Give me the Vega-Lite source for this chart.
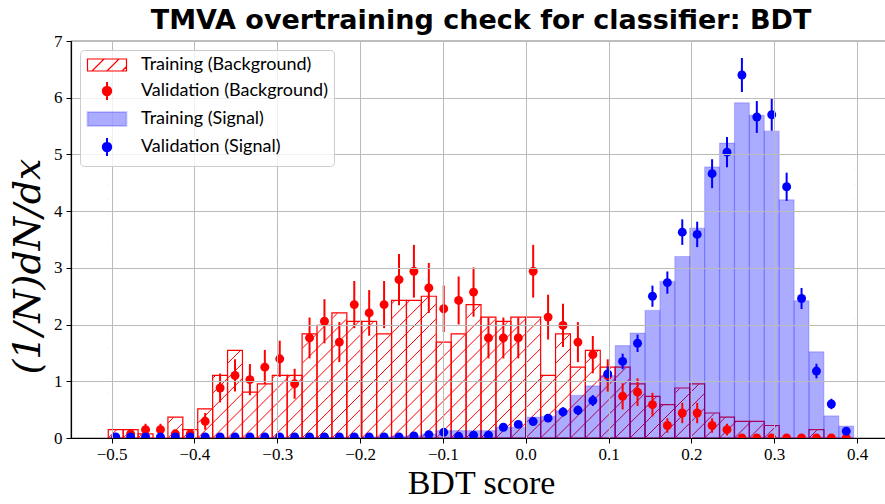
{
  "$schema": "https://vega.github.io/schema/vega-lite/v6.json",
  "width": 820,
  "height": 397,
  "autosize": {"type": "none"},
  "padding": {"left": 71, "top": 41, "right": 0, "bottom": 66},
  "background": "white",
  "title": {"text": "TMVA overtraining check for classifier: BDT", "font": "DejaVu Sans", "fontSize": 27, "fontWeight": "bold", "color": "black", "anchor": "middle", "offset": 6, "dy": 9},
  "config": {
    "view": {"stroke": "black", "strokeWidth": 1.2},
    "axis": {"domainColor": "black", "domainWidth": 1.2, "tickColor": "black", "tickWidth": 1, "gridColor": "#bbbbbb", "gridWidth": 1, "labelColor": "black", "titleColor": "black"}
  },
  "datasets": {
    "train": [
      {"x0": -0.504, "x1": -0.486, "v": 0.147, "s": "Training (Background)"},
      {"x0": -0.486, "x1": -0.468, "v": 0.147, "s": "Training (Background)"},
      {"x0": -0.468, "x1": -0.45, "v": 0.0735, "s": "Training (Background)"},
      {"x0": -0.45, "x1": -0.432, "v": 0, "s": "Training (Background)"},
      {"x0": -0.432, "x1": -0.414, "v": 0.3675, "s": "Training (Background)"},
      {"x0": -0.414, "x1": -0.396, "v": 0.147, "s": "Training (Background)"},
      {"x0": -0.396, "x1": -0.378, "v": 0.5145, "s": "Training (Background)"},
      {"x0": -0.378, "x1": -0.36, "v": 1.1025, "s": "Training (Background)"},
      {"x0": -0.36, "x1": -0.342, "v": 1.5435, "s": "Training (Background)"},
      {"x0": -0.342, "x1": -0.324, "v": 0.8085, "s": "Training (Background)"},
      {"x0": -0.324, "x1": -0.306, "v": 0.9555, "s": "Training (Background)"},
      {"x0": -0.306, "x1": -0.288, "v": 1.1025, "s": "Training (Background)"},
      {"x0": -0.288, "x1": -0.27, "v": 1.1025, "s": "Training (Background)"},
      {"x0": -0.27, "x1": -0.252, "v": 1.8375, "s": "Training (Background)"},
      {"x0": -0.252, "x1": -0.234, "v": 1.9845, "s": "Training (Background)"},
      {"x0": -0.234, "x1": -0.216, "v": 2.205, "s": "Training (Background)"},
      {"x0": -0.216, "x1": -0.198, "v": 2.058, "s": "Training (Background)"},
      {"x0": -0.198, "x1": -0.18, "v": 2.058, "s": "Training (Background)"},
      {"x0": -0.18, "x1": -0.162, "v": 1.8375, "s": "Training (Background)"},
      {"x0": -0.162, "x1": -0.144, "v": 2.4255, "s": "Training (Background)"},
      {"x0": -0.144, "x1": -0.126, "v": 2.4255, "s": "Training (Background)"},
      {"x0": -0.126, "x1": -0.108, "v": 2.499, "s": "Training (Background)"},
      {"x0": -0.108, "x1": -0.09, "v": 1.6905, "s": "Training (Background)"},
      {"x0": -0.09, "x1": -0.072, "v": 1.8375, "s": "Training (Background)"},
      {"x0": -0.072, "x1": -0.054, "v": 2.352, "s": "Training (Background)"},
      {"x0": -0.054, "x1": -0.036, "v": 2.1315, "s": "Training (Background)"},
      {"x0": -0.036, "x1": -0.018, "v": 2.058, "s": "Training (Background)"},
      {"x0": -0.018, "x1": 0, "v": 2.1315, "s": "Training (Background)"},
      {"x0": 0, "x1": 0.018, "v": 2.1315, "s": "Training (Background)"},
      {"x0": 0.018, "x1": 0.036, "v": 1.1025, "s": "Training (Background)"},
      {"x0": 0.036, "x1": 0.054, "v": 1.8375, "s": "Training (Background)"},
      {"x0": 0.054, "x1": 0.072, "v": 1.2495, "s": "Training (Background)"},
      {"x0": 0.072, "x1": 0.09, "v": 1.5435, "s": "Training (Background)"},
      {"x0": 0.09, "x1": 0.108, "v": 1.2495, "s": "Training (Background)"},
      {"x0": 0.108, "x1": 0.126, "v": 1.2495, "s": "Training (Background)"},
      {"x0": 0.126, "x1": 0.144, "v": 0.9555, "s": "Training (Background)"},
      {"x0": 0.144, "x1": 0.162, "v": 0.735, "s": "Training (Background)"},
      {"x0": 0.162, "x1": 0.18, "v": 0.588, "s": "Training (Background)"},
      {"x0": 0.18, "x1": 0.198, "v": 0.882, "s": "Training (Background)"},
      {"x0": 0.198, "x1": 0.216, "v": 0.9555, "s": "Training (Background)"},
      {"x0": 0.216, "x1": 0.234, "v": 0.441, "s": "Training (Background)"},
      {"x0": 0.234, "x1": 0.252, "v": 0.3675, "s": "Training (Background)"},
      {"x0": 0.252, "x1": 0.27, "v": 0.294, "s": "Training (Background)"},
      {"x0": 0.27, "x1": 0.288, "v": 0.294, "s": "Training (Background)"},
      {"x0": 0.288, "x1": 0.306, "v": 0.2205, "s": "Training (Background)"},
      {"x0": 0.306, "x1": 0.324, "v": 0, "s": "Training (Background)"},
      {"x0": 0.324, "x1": 0.342, "v": 0, "s": "Training (Background)"},
      {"x0": 0.342, "x1": 0.36, "v": 0.147, "s": "Training (Background)"},
      {"x0": 0.36, "x1": 0.378, "v": 0, "s": "Training (Background)"},
      {"x0": 0.378, "x1": 0.396, "v": 0, "s": "Training (Background)"},
      {"x0": -0.504, "x1": -0.486, "v": 0, "s": "Training (Signal)"},
      {"x0": -0.486, "x1": -0.468, "v": 0, "s": "Training (Signal)"},
      {"x0": -0.468, "x1": -0.45, "v": 0, "s": "Training (Signal)"},
      {"x0": -0.45, "x1": -0.432, "v": 0, "s": "Training (Signal)"},
      {"x0": -0.432, "x1": -0.414, "v": 0, "s": "Training (Signal)"},
      {"x0": -0.414, "x1": -0.396, "v": 0, "s": "Training (Signal)"},
      {"x0": -0.396, "x1": -0.378, "v": 0, "s": "Training (Signal)"},
      {"x0": -0.378, "x1": -0.36, "v": 0, "s": "Training (Signal)"},
      {"x0": -0.36, "x1": -0.342, "v": 0, "s": "Training (Signal)"},
      {"x0": -0.342, "x1": -0.324, "v": 0, "s": "Training (Signal)"},
      {"x0": -0.324, "x1": -0.306, "v": 0, "s": "Training (Signal)"},
      {"x0": -0.306, "x1": -0.288, "v": 0.01, "s": "Training (Signal)"},
      {"x0": -0.288, "x1": -0.27, "v": 0.01, "s": "Training (Signal)"},
      {"x0": -0.27, "x1": -0.252, "v": 0.01, "s": "Training (Signal)"},
      {"x0": -0.252, "x1": -0.234, "v": 0.01, "s": "Training (Signal)"},
      {"x0": -0.234, "x1": -0.216, "v": 0.01, "s": "Training (Signal)"},
      {"x0": -0.216, "x1": -0.198, "v": 0.01, "s": "Training (Signal)"},
      {"x0": -0.198, "x1": -0.18, "v": 0.02, "s": "Training (Signal)"},
      {"x0": -0.18, "x1": -0.162, "v": 0.02, "s": "Training (Signal)"},
      {"x0": -0.162, "x1": -0.144, "v": 0.03, "s": "Training (Signal)"},
      {"x0": -0.144, "x1": -0.126, "v": 0.04, "s": "Training (Signal)"},
      {"x0": -0.126, "x1": -0.108, "v": 0.07, "s": "Training (Signal)"},
      {"x0": -0.108, "x1": -0.09, "v": 0.13, "s": "Training (Signal)"},
      {"x0": -0.09, "x1": -0.072, "v": 0.13, "s": "Training (Signal)"},
      {"x0": -0.072, "x1": -0.054, "v": 0.13, "s": "Training (Signal)"},
      {"x0": -0.054, "x1": -0.036, "v": 0.13, "s": "Training (Signal)"},
      {"x0": -0.036, "x1": -0.018, "v": 0.19, "s": "Training (Signal)"},
      {"x0": -0.018, "x1": 0, "v": 0.19, "s": "Training (Signal)"},
      {"x0": 0, "x1": 0.018, "v": 0.37, "s": "Training (Signal)"},
      {"x0": 0.018, "x1": 0.036, "v": 0.38, "s": "Training (Signal)"},
      {"x0": 0.036, "x1": 0.054, "v": 0.48, "s": "Training (Signal)"},
      {"x0": 0.054, "x1": 0.072, "v": 0.75, "s": "Training (Signal)"},
      {"x0": 0.072, "x1": 0.09, "v": 0.92, "s": "Training (Signal)"},
      {"x0": 0.09, "x1": 0.108, "v": 1.1, "s": "Training (Signal)"},
      {"x0": 0.108, "x1": 0.126, "v": 1.63, "s": "Training (Signal)"},
      {"x0": 0.126, "x1": 0.144, "v": 1.85, "s": "Training (Signal)"},
      {"x0": 0.144, "x1": 0.162, "v": 2.25, "s": "Training (Signal)"},
      {"x0": 0.162, "x1": 0.18, "v": 2.76, "s": "Training (Signal)"},
      {"x0": 0.18, "x1": 0.198, "v": 3.2, "s": "Training (Signal)"},
      {"x0": 0.198, "x1": 0.216, "v": 3.7, "s": "Training (Signal)"},
      {"x0": 0.216, "x1": 0.234, "v": 4.78, "s": "Training (Signal)"},
      {"x0": 0.234, "x1": 0.252, "v": 5.2, "s": "Training (Signal)"},
      {"x0": 0.252, "x1": 0.27, "v": 5.91, "s": "Training (Signal)"},
      {"x0": 0.27, "x1": 0.288, "v": 5.69, "s": "Training (Signal)"},
      {"x0": 0.288, "x1": 0.306, "v": 5.41, "s": "Training (Signal)"},
      {"x0": 0.306, "x1": 0.324, "v": 4.2, "s": "Training (Signal)"},
      {"x0": 0.324, "x1": 0.342, "v": 2.42, "s": "Training (Signal)"},
      {"x0": 0.342, "x1": 0.36, "v": 1.52, "s": "Training (Signal)"},
      {"x0": 0.36, "x1": 0.378, "v": 0.39, "s": "Training (Signal)"},
      {"x0": 0.378, "x1": 0.396, "v": 0.21, "s": "Training (Signal)"}
    ],
    "val": [
      {"x": -0.495, "v": 0, "lo": 0, "hi": 0, "s": "Validation (Background)"},
      {"x": -0.477, "v": 0.0735, "lo": 0, "hi": 0.147, "s": "Validation (Background)"},
      {"x": -0.459, "v": 0.147, "lo": 0.043, "hi": 0.251, "s": "Validation (Background)"},
      {"x": -0.441, "v": 0.147, "lo": 0.043, "hi": 0.251, "s": "Validation (Background)"},
      {"x": -0.423, "v": 0.0735, "lo": 0, "hi": 0.147, "s": "Validation (Background)"},
      {"x": -0.405, "v": 0.0735, "lo": 0, "hi": 0.147, "s": "Validation (Background)"},
      {"x": -0.387, "v": 0.294, "lo": 0.147, "hi": 0.441, "s": "Validation (Background)"},
      {"x": -0.369, "v": 0.882, "lo": 0.627, "hi": 1.137, "s": "Validation (Background)"},
      {"x": -0.351, "v": 1.1025, "lo": 0.818, "hi": 1.388, "s": "Validation (Background)"},
      {"x": -0.333, "v": 1.029, "lo": 0.754, "hi": 1.304, "s": "Validation (Background)"},
      {"x": -0.315, "v": 1.2495, "lo": 0.947, "hi": 1.553, "s": "Validation (Background)"},
      {"x": -0.297, "v": 1.3965, "lo": 1.077, "hi": 1.717, "s": "Validation (Background)"},
      {"x": -0.279, "v": 0.9555, "lo": 0.691, "hi": 1.221, "s": "Validation (Background)"},
      {"x": -0.261, "v": 1.764, "lo": 1.404, "hi": 2.124, "s": "Validation (Background)"},
      {"x": -0.243, "v": 2.058, "lo": 1.669, "hi": 2.447, "s": "Validation (Background)"},
      {"x": -0.225, "v": 1.6905, "lo": 1.338, "hi": 2.043, "s": "Validation (Background)"},
      {"x": -0.207, "v": 2.352, "lo": 1.936, "hi": 2.768, "s": "Validation (Background)"},
      {"x": -0.189, "v": 2.205, "lo": 1.802, "hi": 2.608, "s": "Validation (Background)"},
      {"x": -0.171, "v": 2.352, "lo": 1.936, "hi": 2.768, "s": "Validation (Background)"},
      {"x": -0.153, "v": 2.793, "lo": 2.34, "hi": 3.246, "s": "Validation (Background)"},
      {"x": -0.135, "v": 2.94, "lo": 2.475, "hi": 3.405, "s": "Validation (Background)"},
      {"x": -0.117, "v": 2.646, "lo": 2.205, "hi": 3.087, "s": "Validation (Background)"},
      {"x": -0.099, "v": 2.2785, "lo": 1.869, "hi": 2.688, "s": "Validation (Background)"},
      {"x": -0.081, "v": 2.4255, "lo": 2.003, "hi": 2.848, "s": "Validation (Background)"},
      {"x": -0.063, "v": 2.5725, "lo": 2.138, "hi": 3.008, "s": "Validation (Background)"},
      {"x": -0.045, "v": 1.764, "lo": 1.404, "hi": 2.124, "s": "Validation (Background)"},
      {"x": -0.027, "v": 1.764, "lo": 1.404, "hi": 2.124, "s": "Validation (Background)"},
      {"x": -0.009, "v": 1.764, "lo": 1.404, "hi": 2.124, "s": "Validation (Background)"},
      {"x": 0.009, "v": 2.94, "lo": 2.475, "hi": 3.405, "s": "Validation (Background)"},
      {"x": 0.027, "v": 2.1315, "lo": 1.736, "hi": 2.527, "s": "Validation (Background)"},
      {"x": 0.045, "v": 1.9845, "lo": 1.603, "hi": 2.366, "s": "Validation (Background)"},
      {"x": 0.063, "v": 1.6905, "lo": 1.338, "hi": 2.043, "s": "Validation (Background)"},
      {"x": 0.081, "v": 1.47, "lo": 1.141, "hi": 1.799, "s": "Validation (Background)"},
      {"x": 0.099, "v": 1.1025, "lo": 0.818, "hi": 1.388, "s": "Validation (Background)"},
      {"x": 0.117, "v": 0.735, "lo": 0.503, "hi": 0.967, "s": "Validation (Background)"},
      {"x": 0.135, "v": 0.8085, "lo": 0.565, "hi": 1.052, "s": "Validation (Background)"},
      {"x": 0.153, "v": 0.588, "lo": 0.38, "hi": 0.796, "s": "Validation (Background)"},
      {"x": 0.171, "v": 0.2205, "lo": 0.093, "hi": 0.348, "s": "Validation (Background)"},
      {"x": 0.189, "v": 0.441, "lo": 0.261, "hi": 0.621, "s": "Validation (Background)"},
      {"x": 0.207, "v": 0.441, "lo": 0.261, "hi": 0.621, "s": "Validation (Background)"},
      {"x": 0.225, "v": 0.2205, "lo": 0.093, "hi": 0.348, "s": "Validation (Background)"},
      {"x": 0.243, "v": 0.147, "lo": 0.043, "hi": 0.251, "s": "Validation (Background)"},
      {"x": 0.261, "v": 0, "lo": 0, "hi": 0, "s": "Validation (Background)"},
      {"x": 0.279, "v": 0, "lo": 0, "hi": 0, "s": "Validation (Background)"},
      {"x": 0.297, "v": 0, "lo": 0, "hi": 0, "s": "Validation (Background)"},
      {"x": 0.315, "v": 0, "lo": 0, "hi": 0, "s": "Validation (Background)"},
      {"x": 0.333, "v": 0, "lo": 0, "hi": 0, "s": "Validation (Background)"},
      {"x": 0.351, "v": 0, "lo": 0, "hi": 0, "s": "Validation (Background)"},
      {"x": 0.369, "v": 0, "lo": 0, "hi": 0, "s": "Validation (Background)"},
      {"x": 0.387, "v": 0, "lo": 0, "hi": 0, "s": "Validation (Background)"},
      {"x": -0.495, "v": 0.02, "lo": 0.003, "hi": 0.037, "s": "Validation (Signal)"},
      {"x": -0.477, "v": 0.02, "lo": 0.003, "hi": 0.037, "s": "Validation (Signal)"},
      {"x": -0.459, "v": 0.02, "lo": 0.003, "hi": 0.037, "s": "Validation (Signal)"},
      {"x": -0.441, "v": 0.02, "lo": 0.003, "hi": 0.037, "s": "Validation (Signal)"},
      {"x": -0.423, "v": 0.02, "lo": 0.003, "hi": 0.037, "s": "Validation (Signal)"},
      {"x": -0.405, "v": 0.02, "lo": 0.003, "hi": 0.037, "s": "Validation (Signal)"},
      {"x": -0.387, "v": 0.02, "lo": 0.003, "hi": 0.037, "s": "Validation (Signal)"},
      {"x": -0.369, "v": 0.02, "lo": 0.003, "hi": 0.037, "s": "Validation (Signal)"},
      {"x": -0.351, "v": 0.02, "lo": 0.003, "hi": 0.037, "s": "Validation (Signal)"},
      {"x": -0.333, "v": 0.02, "lo": 0.003, "hi": 0.037, "s": "Validation (Signal)"},
      {"x": -0.315, "v": 0.02, "lo": 0.003, "hi": 0.037, "s": "Validation (Signal)"},
      {"x": -0.297, "v": 0.02, "lo": 0.003, "hi": 0.037, "s": "Validation (Signal)"},
      {"x": -0.279, "v": 0.02, "lo": 0.003, "hi": 0.037, "s": "Validation (Signal)"},
      {"x": -0.261, "v": 0.02, "lo": 0.003, "hi": 0.037, "s": "Validation (Signal)"},
      {"x": -0.243, "v": 0.02, "lo": 0.003, "hi": 0.037, "s": "Validation (Signal)"},
      {"x": -0.225, "v": 0.02, "lo": 0.003, "hi": 0.037, "s": "Validation (Signal)"},
      {"x": -0.207, "v": 0.02, "lo": 0.003, "hi": 0.037, "s": "Validation (Signal)"},
      {"x": -0.189, "v": 0.02, "lo": 0.003, "hi": 0.037, "s": "Validation (Signal)"},
      {"x": -0.171, "v": 0.02, "lo": 0.003, "hi": 0.037, "s": "Validation (Signal)"},
      {"x": -0.153, "v": 0.02, "lo": 0.003, "hi": 0.037, "s": "Validation (Signal)"},
      {"x": -0.135, "v": 0.035, "lo": 0.013, "hi": 0.057, "s": "Validation (Signal)"},
      {"x": -0.117, "v": 0.06, "lo": 0.031, "hi": 0.089, "s": "Validation (Signal)"},
      {"x": -0.099, "v": 0.1, "lo": 0.063, "hi": 0.137, "s": "Validation (Signal)"},
      {"x": -0.081, "v": 0.03, "lo": 0.01, "hi": 0.05, "s": "Validation (Signal)"},
      {"x": -0.063, "v": 0.05, "lo": 0.024, "hi": 0.076, "s": "Validation (Signal)"},
      {"x": -0.045, "v": 0.05, "lo": 0.024, "hi": 0.076, "s": "Validation (Signal)"},
      {"x": -0.027, "v": 0.19, "lo": 0.138, "hi": 0.242, "s": "Validation (Signal)"},
      {"x": -0.009, "v": 0.24, "lo": 0.182, "hi": 0.298, "s": "Validation (Signal)"},
      {"x": 0.009, "v": 0.29, "lo": 0.226, "hi": 0.354, "s": "Validation (Signal)"},
      {"x": 0.027, "v": 0.35, "lo": 0.28, "hi": 0.42, "s": "Validation (Signal)"},
      {"x": 0.045, "v": 0.46, "lo": 0.38, "hi": 0.54, "s": "Validation (Signal)"},
      {"x": 0.063, "v": 0.49, "lo": 0.407, "hi": 0.573, "s": "Validation (Signal)"},
      {"x": 0.081, "v": 0.66, "lo": 0.564, "hi": 0.756, "s": "Validation (Signal)"},
      {"x": 0.099, "v": 1.13, "lo": 1.004, "hi": 1.256, "s": "Validation (Signal)"},
      {"x": 0.117, "v": 1.35, "lo": 1.213, "hi": 1.487, "s": "Validation (Signal)"},
      {"x": 0.135, "v": 1.67, "lo": 1.517, "hi": 1.823, "s": "Validation (Signal)"},
      {"x": 0.153, "v": 2.5, "lo": 2.313, "hi": 2.687, "s": "Validation (Signal)"},
      {"x": 0.171, "v": 2.74, "lo": 2.544, "hi": 2.936, "s": "Validation (Signal)"},
      {"x": 0.189, "v": 3.63, "lo": 3.405, "hi": 3.855, "s": "Validation (Signal)"},
      {"x": 0.207, "v": 3.59, "lo": 3.366, "hi": 3.814, "s": "Validation (Signal)"},
      {"x": 0.225, "v": 4.66, "lo": 4.405, "hi": 4.915, "s": "Validation (Signal)"},
      {"x": 0.243, "v": 5.04, "lo": 4.774, "hi": 5.306, "s": "Validation (Signal)"},
      {"x": 0.261, "v": 6.4, "lo": 6.1, "hi": 6.7, "s": "Validation (Signal)"},
      {"x": 0.279, "v": 5.66, "lo": 5.379, "hi": 5.941, "s": "Validation (Signal)"},
      {"x": 0.297, "v": 5.7, "lo": 5.418, "hi": 5.982, "s": "Validation (Signal)"},
      {"x": 0.315, "v": 4.43, "lo": 4.181, "hi": 4.679, "s": "Validation (Signal)"},
      {"x": 0.333, "v": 2.46, "lo": 2.274, "hi": 2.646, "s": "Validation (Signal)"},
      {"x": 0.351, "v": 1.18, "lo": 1.051, "hi": 1.309, "s": "Validation (Signal)"},
      {"x": 0.369, "v": 0.6, "lo": 0.508, "hi": 0.692, "s": "Validation (Signal)"},
      {"x": 0.387, "v": 0.12, "lo": 0.079, "hi": 0.161, "s": "Validation (Signal)"}
    ]
  },
  "layer": [
    {
      "data": {"name": "train"},
      "transform": [{"filter": "datum.s == 'Training (Background)'"}],
      "mark": {"type": "point", "filled": false, "opacity": 1, "color": "#ff0000", "strokeWidth": 1, "size": 400, "clip": true,
        "shape": "M0,0L1.491,-1.491M0,-1.491L1.491,-2.982M0,-2.982L1.491,-4.473M0,-4.473L1.491,-5.964M0,-5.964L1.491,-7.455M0,-7.455L1.491,-8.945M0,-8.945L1.491,-10.436M0,-10.436L1.491,-11.927M0,-11.927L1.491,-13.418M0,-13.418L1.491,-14.909M0,-14.909L1.491,-16.4M0,-16.4L1.491,-17.891M0,-17.891L1.491,-19.382M0,-19.382L1.491,-20.873M0,-20.873L1.491,-22.364M0,-22.364L1.491,-23.854M0,-23.854L1.491,-25.345M0,-25.345L1.491,-26.836M0,-26.836L1.491,-28.327M0,-28.327L1.491,-29.818M0,-29.818L1.491,-31.309M0,-31.309L1.491,-32.8M0,-32.8L1.491,-34.291M0,-34.291L1.491,-35.782M0,-35.782L1.491,-37.273M0,-37.273L1.491,-38.763M0,-38.763L1.491,-40.254"},
      "encoding": {
        "x": {"field": "x0", "type": "quantitative", "title": "BDT score", "scale": {"domain": [-0.549, 0.441], "nice": false, "zero": false},
          "axis": {"values": [-0.5, -0.4, -0.3, -0.2, -0.1, 0, 0.1, 0.2, 0.3, 0.4], "format": ".1f", "grid": true, "zindex": 1, "labelFont": "Liberation Serif", "labelFontSize": 17, "labelPadding": 3, "tickSize": 5, "titleFont": "Liberation Serif", "titleFontSize": 34, "titleFontWeight": "normal", "titlePadding": 4, "labelFlush": false, "labelOverlap": false}},
        "y": {"datum": 0, "type": "quantitative", "title": "(1/N)dN/dx", "scale": {"domain": [0, 7], "nice": false},
          "axis": {"values": [0, 1, 2, 3, 4, 5, 6, 7], "format": "d", "grid": true, "zindex": 1, "labelFont": "Liberation Serif", "labelFontSize": 17, "labelPadding": 4, "tickSize": 5, "titleFont": "DejaVu Serif", "titleFontStyle": "italic", "titleFontSize": 38, "titleFontWeight": "normal", "titlePadding": 6, "titleY": 225, "labelFlush": false}}
      }
    },
    {
      "data": {"name": "train"},
      "transform": [{"filter": "datum.s == 'Training (Background)'"}],
      "mark": {"type": "bar", "fill": "white", "stroke": "white", "strokeWidth": 1, "clip": true},
      "encoding": {
        "x": {"field": "x0", "type": "quantitative", "title": "BDT score", "scale": {"domain": [-0.549, 0.441], "nice": false, "zero": false}},
        "x2": {"field": "x1"},
        "y": {"field": "v", "type": "quantitative", "title": "(1/N)dN/dx", "scale": {"domain": [0, 7], "nice": false}},
        "y2": {"datum": 7}
      }
    },
    {
      "data": {"name": "train"},
      "mark": {"type": "bar", "strokeWidth": 1.2, "fillOpacity": 1, "clip": true},
      "encoding": {
        "x": {"field": "x0", "type": "quantitative", "title": "BDT score", "scale": {"domain": [-0.549, 0.441], "nice": false, "zero": false}},
        "x2": {"field": "x1"},
        "y": {"field": "v", "type": "quantitative", "title": "(1/N)dN/dx", "scale": {"domain": [0, 7], "nice": false}},
        "y2": {"datum": 0},
        "fill": {"field": "s", "type": "nominal",
          "scale": {"domain": ["Training (Background)", "Validation (Background)", "Training (Signal)", "Validation (Signal)"], "range": ["rgba(255,0,0,0)", "#ff0000", "rgba(0,0,255,0.33)", "#0000ff"]},
          "legend": {"title": null, "orient": "top-left", "offset": 9, "padding": 6, "zindex": 2,
            "fillColor": "rgba(255,255,255,0.8)", "strokeColor": "#cccccc", "cornerRadius": 4,
            "labelFont": "Lato", "labelFontSize": 18, "labelColor": "black", "labelLimit": 400, "symbolSize": 400, "rowPadding": 4, "labelOffset": 25, "symbolOffset": 12,
            "encode": {"symbols": {"update": {
              "shape": {"signal": "datum.value == 'Training (Background)' ? 'M-1.95,-0.6H1.95V0.6H-1.95ZM-1.5,0.6L-0.3,-0.6M0,0.6L1.2,-0.6M1.5,0.6L1.95,0.15' : datum.value == 'Training (Signal)' ? 'M-1.95,-0.7H1.95V0.7H-1.95Z' : 'M0,-0.9V0.9M0.42,0A0.42,0.42 0 1,1 -0.42,0A0.42,0.42 0 1,1 0.42,0Z'"},
              "fill": {"signal": "datum.value == 'Training (Background)' ? 'transparent' : datum.value == 'Training (Signal)' ? 'rgba(0,0,255,0.33)' : datum.value == 'Validation (Background)' ? '#ff0000' : '#0000ff'"},
              "stroke": {"signal": "datum.value == 'Training (Signal)' ? 'transparent' : (datum.value == 'Training (Background)' || datum.value == 'Validation (Background)') ? '#ff0000' : '#0000ff'"},
              "strokeWidth": {"signal": "datum.value == 'Training (Background)' ? 1.2 : 2"},
              "opacity": {"value": 1}
            }}}}},
        "stroke": {"field": "s", "type": "nominal",
          "scale": {"domain": ["Training (Background)", "Validation (Background)", "Training (Signal)", "Validation (Signal)"], "range": ["#ff0000", "#ff0000", "rgba(0,0,255,0.18)", "#0000ff"]},
          "legend": null}
      }
    },
    {
      "data": {"name": "val"},
      "mark": {"type": "rule", "strokeWidth": 2, "clip": true},
      "encoding": {
        "x": {"field": "x", "type": "quantitative", "title": "BDT score", "scale": {"domain": [-0.549, 0.441], "nice": false, "zero": false}},
        "y": {"field": "lo", "type": "quantitative", "title": "(1/N)dN/dx", "scale": {"domain": [0, 7], "nice": false}},
        "y2": {"field": "hi"},
        "color": {"field": "s", "type": "nominal", "scale": {"domain": ["Validation (Background)", "Validation (Signal)"], "range": ["#ff0000", "#0000ff"]}, "legend": null}
      }
    },
    {
      "data": {"name": "val"},
      "mark": {"type": "point", "filled": true, "opacity": 1, "size": 80, "clip": true},
      "encoding": {
        "x": {"field": "x", "type": "quantitative", "title": "BDT score", "scale": {"domain": [-0.549, 0.441], "nice": false, "zero": false}},
        "y": {"field": "v", "type": "quantitative", "title": "(1/N)dN/dx", "scale": {"domain": [0, 7], "nice": false}},
        "color": {"field": "s", "type": "nominal", "scale": {"domain": ["Validation (Background)", "Validation (Signal)"], "range": ["#ff0000", "#0000ff"]}, "legend": null}
      }
    }
  ]
}
